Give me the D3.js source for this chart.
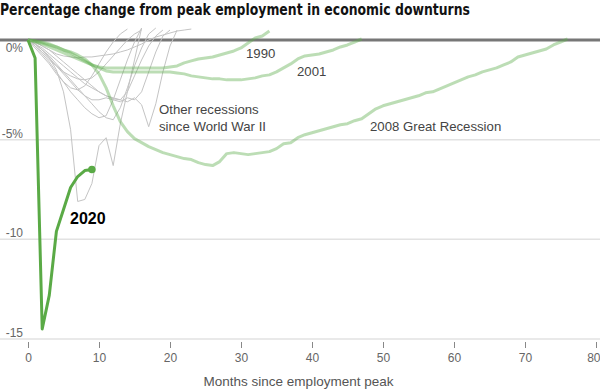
<!DOCTYPE html>
<html>
<head>
<meta charset="utf-8">
<script src="https://cdn.jsdelivr.net/npm/d3@7"></script>
<style>
  body { margin: 0; background: #fff; }
  svg text { font-family: "Liberation Sans", Arial, sans-serif; }
</style>
</head>
<body>
<div id="holder"></div>
<script>
// months since peak are the array index
const y2020 = [0, -0.9, -14.5, -12.8, -9.6, -8.5, -7.4, -6.85, -6.55, -6.5];
const y1990 = [0, -0.1, -0.2, -0.35, -0.5, -0.65, -0.8, -0.95, -1.1, -1.25, -1.35, -1.4, -1.4, -1.4, -1.4, -1.4, -1.4, -1.4, -1.4, -1.4, -1.35, -1.3, -1.15, -1.05, -0.95, -0.9, -0.85, -0.75, -0.65, -0.55, -0.4, -0.15, 0.1, 0.2, 0.45];
const y2001 = [0, -0.05, -0.1, -0.2, -0.35, -0.5, -0.65, -0.85, -1.05, -1.25, -1.4, -1.55, -1.6, -1.6, -1.6, -1.6, -1.6, -1.6, -1.6, -1.6, -1.6, -1.65, -1.7, -1.8, -1.85, -1.9, -1.95, -1.95, -2.0, -2.0, -2.0, -1.95, -1.9, -1.8, -1.75, -1.6, -1.4, -1.2, -0.95, -0.8, -0.75, -0.7, -0.6, -0.5, -0.35, -0.25, -0.1, 0.05];
const y2008 = [0, -0.05, -0.15, -0.25, -0.35, -0.5, -0.6, -0.75, -0.95, -1.25, -1.7, -2.4, -3.3, -4.1, -4.6, -4.95, -5.15, -5.35, -5.5, -5.65, -5.75, -5.85, -5.95, -6.0, -6.15, -6.25, -6.3, -6.1, -5.7, -5.65, -5.7, -5.75, -5.7, -5.65, -5.6, -5.45, -5.2, -5.15, -4.9, -4.75, -4.65, -4.55, -4.45, -4.35, -4.25, -4.2, -4.05, -3.95, -3.7, -3.45, -3.3, -3.2, -3.1, -3.0, -2.9, -2.8, -2.65, -2.6, -2.45, -2.3, -2.15, -2.0, -1.85, -1.75, -1.6, -1.5, -1.4, -1.25, -1.1, -0.85, -0.75, -0.65, -0.55, -0.45, -0.25, -0.1, 0.05];

const otherRecessions = [
  [0, -0.2, -0.5, -0.9, -1.5, -2.6, -4.5, -8.1, -8.0, -7.2, -5.3, -4.9, -6.3, -4.2, -2.6, -1.0, 0.6],
  [0, -0.2, -0.4, -0.7, -1.0, -1.3, -1.6, -1.9, -2.2, -2.4, -2.6, -2.8, -2.9, -3.0, -3.1, -2.9, -3.25, -4.35, -3.2, -1.6, -0.3, 0.5],
  [0, -0.3, -0.7, -1.1, -1.6, -2.1, -2.6, -3.0, -3.4, -3.7, -3.9, -3.8, -3.0, -2.0, -1.0, -0.1, 0.6],
  [0, -0.2, -0.5, -0.8, -1.2, -1.6, -2.0, -2.4, -2.8, -3.2, -3.6, -3.9, -4.0, -3.4, -2.4, -1.3, -0.4, 0.3, 0.6],
  [0, -0.1, -0.3, -0.5, -0.8, -1.1, -1.4, -1.7, -2.0, -2.3, -2.6, -2.8, -2.95, -3.0, -2.6, -1.8, -1.0, -0.3, 0.2, 0.5],
  [0, -0.2, -0.5, -0.9, -1.3, -1.7, -2.1, -2.5, -2.8, -3.0, -3.0, -2.9, -3.0, -3.1, -2.9, -3.0, -2.6, -1.6, -0.6, 0.2, 0.5],
  [0, -0.1, -0.3, -0.5, -0.7, -0.8, -0.85, -0.9, -0.85, -0.85, -0.8, -0.75, -0.7, -0.6, -0.5, -0.35, -0.2, 0.0, 0.15, 0.25, 0.35, 0.45, 0.5, 0.55],
  [0, -0.3, -0.6, -1.0, -1.3, -1.6, -1.8, -1.95, -2.0, -1.9, -1.6, -1.2, -0.8, -0.4, 0.0, 0.3, 0.5],
  [0, -0.4, -0.8, -1.2, -1.7, -2.1, -2.4, -2.5, -2.3, -1.8, -1.2, -0.6, -0.1, 0.3, 0.55]
];

const xTicks = [0, 10, 20, 30, 40, 50, 60, 70, 80];
const yTicks = [0, -5, -10, -15];
const yTickLabels = ["0%", "-5%", "-10", "-15"];

const width = 600;
const height = 392;

const x = d3.scaleLinear().domain([0, 80]).range([28, 596]);
const y = d3.scaleLinear().domain([0, -15]).range([40, 339]);

const svg = d3.select("#holder")
  .append("svg")
  .attr("width", width)
  .attr("height", height);

svg.append("text")
  .attr("x", 0)
  .attr("y", 15)
  .style("font-family", "'Liberation Sans Narrow', 'DejaVu Sans Condensed', sans-serif")
  .attr("font-weight", "bold")
  .attr("font-size", 15.5)
  .attr("textLength", 470)
  .attr("lengthAdjust", "spacingAndGlyphs")
  .attr("fill", "#121212")
  .text("Percentage change from peak employment in economic downturns");

// grid
svg.selectAll(".grid")
  .data(yTicks.filter(d => d !== 0))
  .enter()
  .append("line")
  .attr("class", "grid")
  .attr("x1", 0)
  .attr("x2", width)
  .attr("y1", d => y(d))
  .attr("y2", d => y(d))
  .attr("stroke", "#e2e2e2")
  .attr("stroke-width", 1.5);

svg.append("line")
  .attr("x1", 0)
  .attr("x2", width)
  .attr("y1", y(0))
  .attr("y2", y(0))
  .attr("stroke", "#777")
  .attr("stroke-width", 3);

svg.selectAll(".ylabel")
  .data(yTicks)
  .enter()
  .append("text")
  .attr("class", "ylabel")
  .attr("x", 23)
  .attr("y", d => d === 0 ? y(d) + 12 : y(d) - 2)
  .attr("text-anchor", "end")
  .attr("font-size", 12)
  .attr("fill", "#666")
  .text((d, i) => yTickLabels[i]);

// x axis
const xAxis = d3.axisBottom(x)
  .tickValues(xTicks)
  .tickSize(6)
  .tickPadding(5);

const axisG = svg.append("g")
  .attr("transform", `translate(0, ${y(-15) + 3})`)
  .call(xAxis);
axisG.select(".domain").remove();
axisG.selectAll(".tick line").attr("stroke", "#888");
axisG.selectAll(".tick text")
  .attr("font-size", 12)
  .attr("fill", "#666")
  .style("font-family", "'Liberation Sans', Arial, sans-serif")
  .attr("text-anchor", d => d === 80 ? "end" : "middle")
  .attr("dx", d => d === 80 ? 4 : 0);

svg.append("text")
  .attr("x", x(38.1))
  .attr("y", 386)
  .attr("text-anchor", "middle")
  .attr("font-size", 13.5)
  .attr("fill", "#555")
  .text("Months since employment peak");

const line = d3.line()
  .x((d, i) => x(i))
  .y(d => y(d));

svg.selectAll(".other")
  .data(otherRecessions)
  .enter()
  .append("path")
  .attr("class", "other")
  .attr("d", line)
  .attr("fill", "none")
  .attr("stroke", "#c4c4c4")
  .attr("stroke-width", 1);

svg.selectAll(".past")
  .data([y2008, y2001, y1990])
  .enter()
  .append("path")
  .attr("class", "past")
  .attr("d", line)
  .attr("fill", "none")
  .attr("stroke", "#5fae4f")
  .attr("stroke-opacity", 0.42)
  .attr("stroke-width", 3)
  .attr("stroke-linejoin", "round");

svg.append("path")
  .datum(y2020)
  .attr("d", line)
  .attr("fill", "none")
  .attr("stroke", "#5aaa46")
  .attr("stroke-width", 3)
  .attr("stroke-linejoin", "round");

svg.append("circle")
  .attr("cx", x(y2020.length - 1))
  .attr("cy", y(y2020[y2020.length - 1]))
  .attr("r", 3.8)
  .attr("fill", "#5aaa46");

// labels
const labels = [
  { text: "1990", x: 246, y: 58 },
  { text: "2001", x: 297, y: 76 },
  { text: "2008 Great Recession", x: 370, y: 131 },
  { text: "Other recessions", x: 159, y: 114 },
  { text: "since World War II", x: 159, y: 131 }
];
svg.selectAll(".lbl")
  .data(labels)
  .enter()
  .append("text")
  .attr("class", "lbl")
  .attr("x", d => d.x)
  .attr("y", d => d.y)
  .attr("font-size", 13.2)
  .attr("fill", "#444")
  .text(d => d.text);

svg.append("text")
  .attr("x", 70)
  .attr("y", 224)
  .attr("font-size", 16)
  .attr("font-weight", "bold")
  .attr("fill", "#000")
  .text("2020");
</script>
</body>
</html>
